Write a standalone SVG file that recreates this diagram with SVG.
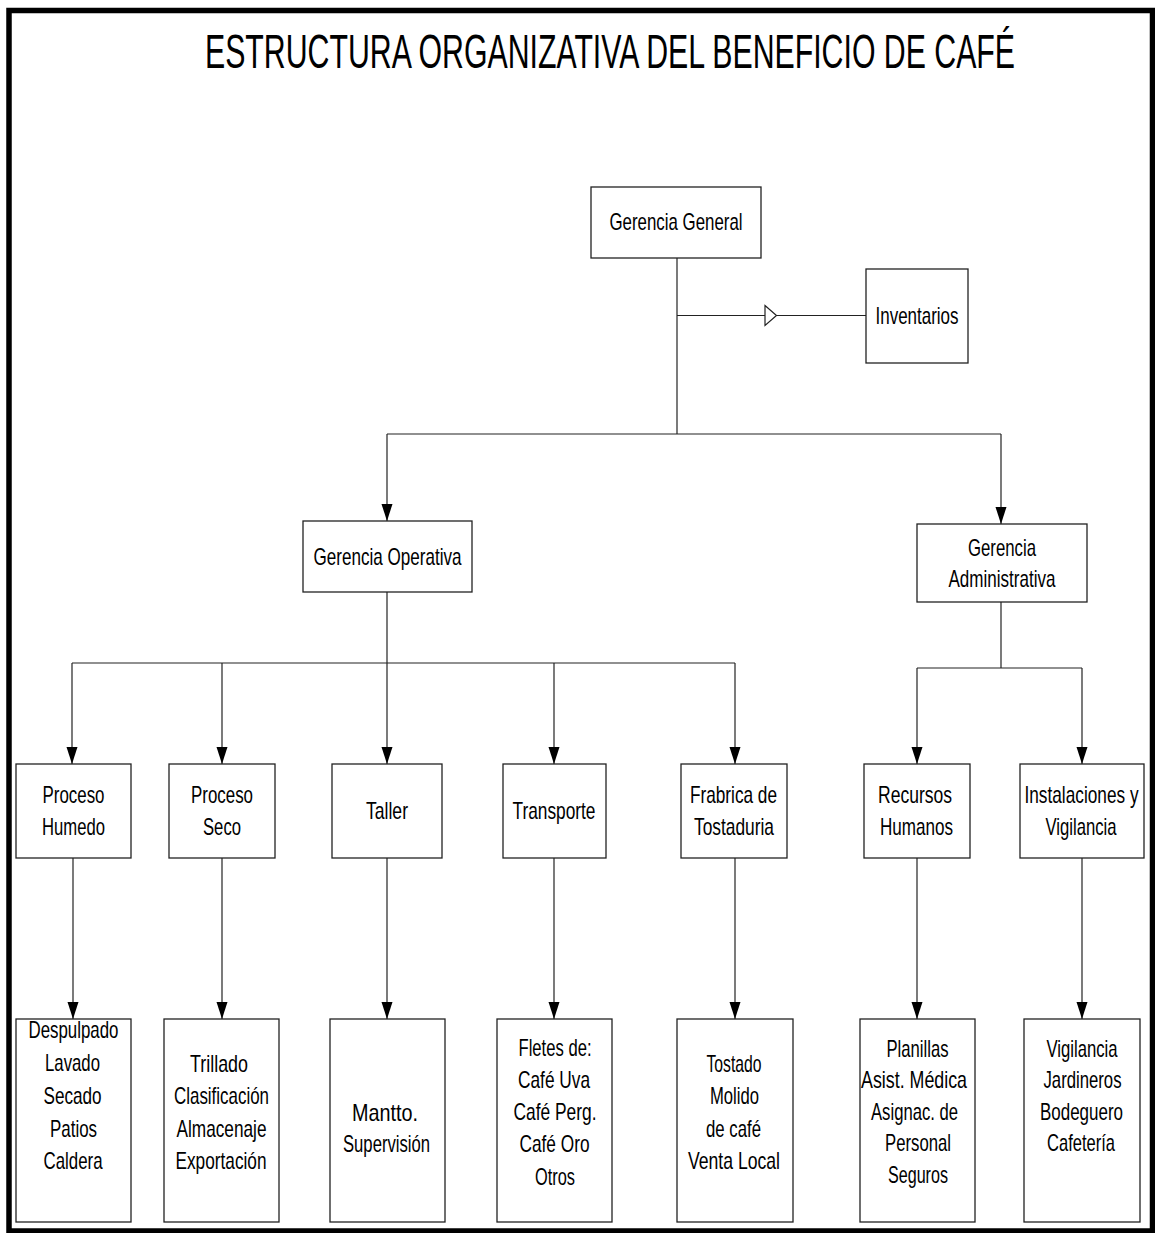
<svg xmlns="http://www.w3.org/2000/svg" width="1155" height="1233" viewBox="0 0 1155 1233">
<style>
.frame{fill:none;stroke:#000;stroke-width:5.5}
.box{fill:#fff;stroke:#222;stroke-width:1.3}
.t{font-family:"Liberation Sans",Arial,sans-serif;font-size:24px;fill:#000;text-anchor:middle}
.title{font-family:"Liberation Sans",Arial,sans-serif;font-size:48px;fill:#000;text-anchor:middle}
.c{fill:none;stroke:#222;stroke-width:1.2}
.ca{fill:none;stroke:#222;stroke-width:1.2;marker-end:url(#ah)}
</style>
<defs>
<marker id="ah" markerUnits="userSpaceOnUse" markerWidth="17" markerHeight="12" refX="17" refY="6" orient="auto" viewBox="0 0 17 12">
<path d="M0,0.5 L17,6 L0,11.5 z" fill="#000"/>
</marker>
</defs>
<rect width="1155" height="1233" fill="#fff"/>
<rect class="frame" x="9" y="10.5" width="1143.5" height="1220.5"/>
<text class="title" x="610" y="68" textLength="810" lengthAdjust="spacingAndGlyphs">ESTRUCTURA ORGANIZATIVA DEL BENEFICIO DE CAFÉ</text>

<g id="connectors">
<path class="c" d="M677,258 V434"/>
<path class="c" d="M677,315.5 H866"/>
<polygon points="765,305.5 776.5,315.5 765,325.5" fill="#fff" stroke="#222" stroke-width="1.2"/>
<path class="c" d="M387,434 H1001"/>
<path class="ca" d="M387,434 V521"/>
<path class="ca" d="M1001,434 V524"/>
<path class="c" d="M387,592 V663"/>
<path class="c" d="M72,663 H735"/>
<path class="ca" d="M72,663 V764"/>
<path class="ca" d="M222,663 V764"/>
<path class="ca" d="M387,663 V764"/>
<path class="ca" d="M554,663 V764"/>
<path class="ca" d="M735,663 V764"/>
<path class="c" d="M1001,602 V668"/>
<path class="c" d="M917,668 H1082"/>
<path class="ca" d="M917,668 V764"/>
<path class="ca" d="M1082,668 V764"/>
<path class="ca" d="M73,858 V1019"/>
<path class="ca" d="M222,858 V1019"/>
<path class="ca" d="M387,858 V1019"/>
<path class="ca" d="M554,858 V1019"/>
<path class="ca" d="M735,858 V1019"/>
<path class="ca" d="M917,858 V1019"/>
<path class="ca" d="M1082,858 V1019"/>
</g>

<g id="gerencia-general">
<rect class="box" x="591" y="187" width="170" height="71"/>
<text class="t" x="676" y="229.5" textLength="133" lengthAdjust="spacingAndGlyphs">Gerencia General</text>
</g>
<g id="inventarios">
<rect class="box" x="866" y="269" width="102" height="94"/>
<text class="t" x="917" y="323.5" textLength="83" lengthAdjust="spacingAndGlyphs">Inventarios</text>
</g>
<g id="gerencia-operativa">
<rect class="box" x="303" y="521" width="169" height="71"/>
<text class="t" x="387.5" y="565" textLength="148" lengthAdjust="spacingAndGlyphs">Gerencia Operativa</text>
</g>
<g id="gerencia-administrativa">
<rect class="box" x="917" y="524" width="170" height="78"/>
<text class="t" x="1002" y="556" textLength="68" lengthAdjust="spacingAndGlyphs">Gerencia</text>
<text class="t" x="1002" y="587" textLength="107" lengthAdjust="spacingAndGlyphs">Administrativa</text>
</g>

<g id="proceso-humedo">
<rect class="box" x="16" y="764" width="115" height="94"/>
<text class="t" x="73.5" y="803" textLength="62" lengthAdjust="spacingAndGlyphs">Proceso</text>
<text class="t" x="73.5" y="835" textLength="63" lengthAdjust="spacingAndGlyphs">Humedo</text>
</g>
<g id="proceso-seco">
<rect class="box" x="169" y="764" width="106" height="94"/>
<text class="t" x="222" y="803" textLength="62" lengthAdjust="spacingAndGlyphs">Proceso</text>
<text class="t" x="222" y="835" textLength="38" lengthAdjust="spacingAndGlyphs">Seco</text>
</g>
<g id="taller">
<rect class="box" x="332" y="764" width="110" height="94"/>
<text class="t" x="387" y="819" textLength="42" lengthAdjust="spacingAndGlyphs">Taller</text>
</g>
<g id="transporte">
<rect class="box" x="503" y="764" width="103" height="94"/>
<text class="t" x="554" y="819" textLength="83" lengthAdjust="spacingAndGlyphs">Transporte</text>
</g>
<g id="frabrica">
<rect class="box" x="681" y="764" width="106" height="94"/>
<text class="t" x="733.5" y="803" textLength="87" lengthAdjust="spacingAndGlyphs">Frabrica de</text>
<text class="t" x="734" y="835" textLength="80" lengthAdjust="spacingAndGlyphs">Tostaduria</text>
</g>
<g id="recursos-humanos">
<rect class="box" x="864" y="764" width="106" height="94"/>
<text class="t" x="915" y="803" textLength="74" lengthAdjust="spacingAndGlyphs">Recursos</text>
<text class="t" x="916.5" y="835" textLength="73" lengthAdjust="spacingAndGlyphs">Humanos</text>
</g>
<g id="instalaciones">
<rect class="box" x="1020" y="764" width="124" height="94"/>
<text class="t" x="1081.5" y="803" textLength="114" lengthAdjust="spacingAndGlyphs">Instalaciones y</text>
<text class="t" x="1081" y="835" textLength="71" lengthAdjust="spacingAndGlyphs">Vigilancia</text>
</g>

<g id="humedo-tareas">
<rect class="box" x="16" y="1019" width="115" height="203"/>
<text class="t" x="73.5" y="1038" textLength="90" lengthAdjust="spacingAndGlyphs">Despulpado</text>
<text class="t" x="72.5" y="1071" textLength="55" lengthAdjust="spacingAndGlyphs">Lavado</text>
<text class="t" x="72.5" y="1104" textLength="58" lengthAdjust="spacingAndGlyphs">Secado</text>
<text class="t" x="73.5" y="1137" textLength="47" lengthAdjust="spacingAndGlyphs">Patios</text>
<text class="t" x="73" y="1169" textLength="59" lengthAdjust="spacingAndGlyphs">Caldera</text>
</g>
<g id="seco-tareas">
<rect class="box" x="164" y="1019" width="115" height="203"/>
<text class="t" x="219" y="1072" textLength="58" lengthAdjust="spacingAndGlyphs">Trillado</text>
<text class="t" x="221.5" y="1104" textLength="95" lengthAdjust="spacingAndGlyphs">Clasificación</text>
<text class="t" x="221.5" y="1137" textLength="90" lengthAdjust="spacingAndGlyphs">Almacenaje</text>
<text class="t" x="221" y="1169" textLength="91" lengthAdjust="spacingAndGlyphs">Exportación</text>
</g>
<g id="taller-tareas">
<rect class="box" x="330" y="1019" width="115" height="203"/>
<text class="t" x="385" y="1121" textLength="66" lengthAdjust="spacingAndGlyphs">Mantto.</text>
<text class="t" x="386.5" y="1152" textLength="87" lengthAdjust="spacingAndGlyphs">Supervisión</text>
</g>
<g id="transporte-tareas">
<rect class="box" x="497" y="1019" width="115" height="203"/>
<text class="t" x="555" y="1056" textLength="73" lengthAdjust="spacingAndGlyphs">Fletes de:</text>
<text class="t" x="554" y="1088" textLength="72" lengthAdjust="spacingAndGlyphs">Café Uva</text>
<text class="t" x="555" y="1120" textLength="83" lengthAdjust="spacingAndGlyphs">Café Perg.</text>
<text class="t" x="554.5" y="1152" textLength="70" lengthAdjust="spacingAndGlyphs">Café Oro</text>
<text class="t" x="555" y="1185" textLength="40" lengthAdjust="spacingAndGlyphs">Otros</text>
</g>
<g id="tostaduria-tareas">
<rect class="box" x="677" y="1019" width="116" height="203"/>
<text class="t" x="734" y="1072" textLength="55" lengthAdjust="spacingAndGlyphs">Tostado</text>
<text class="t" x="734.5" y="1104" textLength="49" lengthAdjust="spacingAndGlyphs">Molido</text>
<text class="t" x="733.5" y="1137" textLength="55" lengthAdjust="spacingAndGlyphs">de café</text>
<text class="t" x="734" y="1169" textLength="92" lengthAdjust="spacingAndGlyphs">Venta Local</text>
</g>
<g id="rrhh-tareas">
<rect class="box" x="860" y="1019" width="115" height="203"/>
<text class="t" x="917.5" y="1057" textLength="62" lengthAdjust="spacingAndGlyphs">Planillas</text>
<text class="t" x="914" y="1088" textLength="106" lengthAdjust="spacingAndGlyphs">Asist. Médica</text>
<text class="t" x="914.5" y="1120" textLength="87" lengthAdjust="spacingAndGlyphs">Asignac. de</text>
<text class="t" x="918" y="1151" textLength="66" lengthAdjust="spacingAndGlyphs">Personal</text>
<text class="t" x="918" y="1183" textLength="60" lengthAdjust="spacingAndGlyphs">Seguros</text>
</g>
<g id="instalaciones-tareas">
<rect class="box" x="1024" y="1019" width="116" height="203"/>
<text class="t" x="1082" y="1057" textLength="71" lengthAdjust="spacingAndGlyphs">Vigilancia</text>
<text class="t" x="1082.5" y="1088" textLength="78" lengthAdjust="spacingAndGlyphs">Jardineros</text>
<text class="t" x="1081.5" y="1120" textLength="83" lengthAdjust="spacingAndGlyphs">Bodeguero</text>
<text class="t" x="1081" y="1151" textLength="68" lengthAdjust="spacingAndGlyphs">Cafetería</text>
</g>
</svg>
